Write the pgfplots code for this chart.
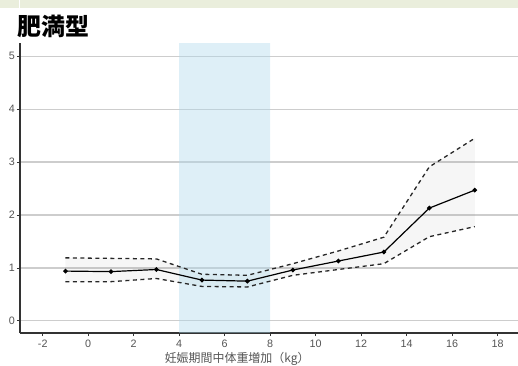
\documentclass[border=0pt]{standalone}
\usepackage{pgfplots}
\pgfplotsset{compat=1.18}
\usepgfplotslibrary{fillbetween}
\usepackage{fontspec}
\setmainfont{Liberation Sans}
\newfontfamily\cjk{Noto Sans CJK JP}
\definecolor{topbar}{RGB}{234,238,220}
\definecolor{bandblue}{RGB}{173,216,235}
\definecolor{axisdark}{RGB}{51,51,51}
\definecolor{ticktext}{RGB}{85,85,85}
\definecolor{gridgray}{RGB}{205,205,205}
\begin{document}
\begin{tikzpicture}
\begin{axis}[
  scale only axis, width=498bp, height=290bp,
  xmin=-3.0, xmax=18.9, ymin=-0.23, ymax=5.25,
  axis x line=bottom, axis y line=left,
  axis line style={-, axisdark, line width=1.4bp},
  xtick={-2,0,...,18}, ytick={0,1,...,5},
  tick align=outside, major tick length=3bp,
  tick style={axisdark, line width=0.8bp},
  ticklabel style={font=\fontsize{10.8}{11}\selectfont, text=ticktext},
  /pgf/number format/assume math mode=true,
  xticklabel style={yshift=-1.5bp, inner sep=2bp},
  yticklabel style={xshift=0bp, inner sep=2bp},
  ymajorgrids, grid style={gridgray, line width=1.2bp},
  xlabel={\cjk 妊娠期間中体重増加（kg）},
  xlabel style={at={(axis description cs:0.436,0)}, anchor=north, yshift=-19bp, inner sep=0pt, font=\fontsize{12}{13}\selectfont, text=ticktext},
  clip=true,
]
\coordinate (ll) at (rel axis cs:0,0);
\addplot[draw=none, fill=bandblue, fill opacity=0.4, forget plot] coordinates {(4,-0.5) (8,-0.5) (8,5.5) (4,5.5) (4,-0.5)};
\addplot[name path=upper, black!85, line width=1.3bp, dash pattern=on 4bp off 3.5bp] coordinates {
(-1,1.19) (1,1.18) (3,1.17) (5,0.88) (7,0.86) (9,1.08) (11,1.32) (13,1.58) (15,2.91) (17,3.45)};
\addplot[name path=lower, black!85, line width=1.3bp, dash pattern=on 4bp off 3.5bp] coordinates {
(-1,0.74) (1,0.74) (3,0.80) (5,0.65) (7,0.64) (9,0.86) (11,0.97) (13,1.08) (15,1.59) (17,1.78)};
\addplot[gray, fill opacity=0.07, draw=none] fill between[of=upper and lower];
\addplot[black, line width=1.2bp, mark=*, mark size=1.7bp] coordinates {
(-1,0.94) (1,0.93) (3,0.97) (5,0.77) (7,0.75) (9,0.96) (11,1.13) (13,1.30) (15,2.13) (17,2.47)};
\end{axis}
\fill[topbar] ([shift={(-20bp,325bp)}]ll) rectangle ([shift={(498bp,333bp)}]ll);
\fill[white] ([shift={(-1.5bp,325bp)}]ll) rectangle ([shift={(0.5bp,333bp)}]ll);
\node[anchor=west, inner sep=0pt, font=\cjk\bfseries\fontsize{24}{26}\selectfont] at ([shift={(-3bp,307bp)}]ll) {肥満型};
\pgfresetboundingbox
\useasboundingbox ([shift={(-20bp,-33bp)}]ll) rectangle ([shift={(498bp,333bp)}]ll);
\end{tikzpicture}
\end{document}
